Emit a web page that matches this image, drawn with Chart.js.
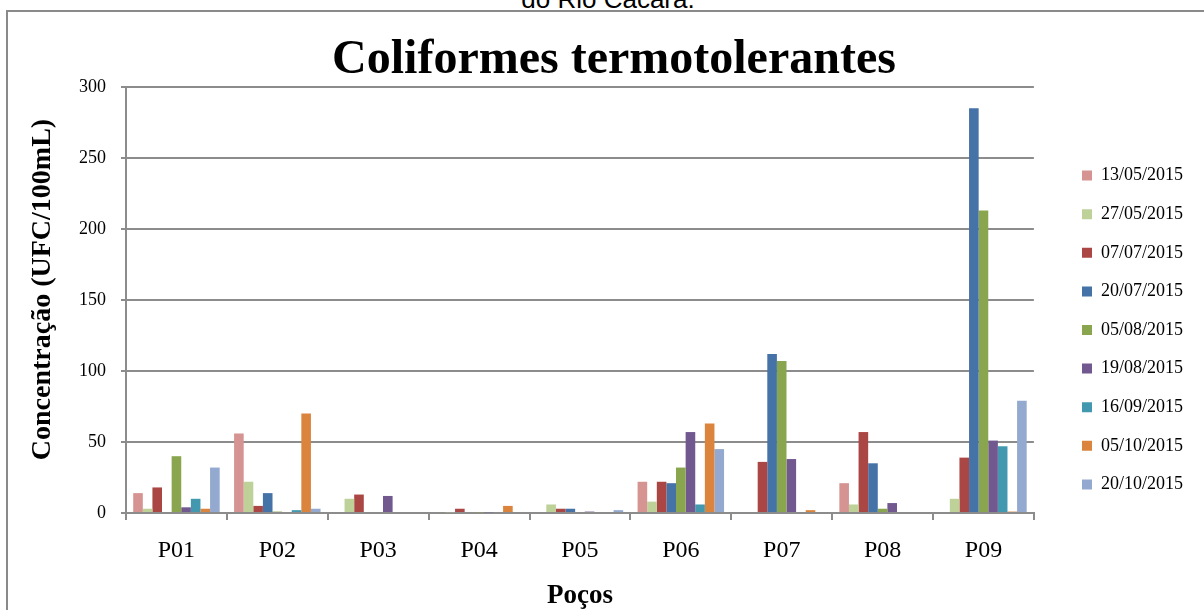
<!DOCTYPE html>
<html><head><meta charset="utf-8">
<script src="https://cdn.jsdelivr.net/npm/chart.js@4.4.1/dist/chart.umd.min.js"></script>
<style>
html,body{margin:0;padding:0;background:#fff;overflow:hidden;}
body{width:1204px;height:610px;position:relative;}
#cap{position:absolute;left:0;width:1216px;top:-14px;text-align:center;font-family:"Liberation Sans",Arial,sans-serif;font-size:26px;line-height:26px;color:#000;}
#frame{position:absolute;left:6px;top:10px;width:1300px;height:700px;border:2px solid #8a8a8a;box-sizing:border-box;}
#wrap{position:absolute;left:0;top:0;width:1204px;height:610px;}
</style></head>
<body>
<div id="cap">do Rio Cacara.</div>
<div id="frame"></div>
<div id="wrap"><canvas id="c" width="1204" height="610"></canvas></div>
<script>
const categories = ['P01','P02','P03','P04','P05','P06','P07','P08','P09'];
const seriesLabels = ['13/05/2015','27/05/2015','07/07/2015','20/07/2015','05/08/2015','19/08/2015','16/09/2015','05/10/2015','20/10/2015'];
const s13_05 = [14, 56, 0, 0, 0, 22, 0, 21, 0];
const s27_05 = [3, 22, 10, 0.5, 6, 8, 0, 6, 10];
const s07_07 = [18, 5, 13, 3, 3, 22, 36, 57, 39];
const s20_07 = [0, 14, 0, 0, 3, 21, 112, 35, 285];
const s05_08 = [40, 1, 0, 0.5, 0, 32, 107, 3, 213];
const s19_08 = [4, 0, 12, 0.5, 1, 57, 38, 7, 51];
const s16_09 = [10, 2, 0, 0, 0, 6, 0, 0, 47];
const s05_10 = [3, 70, 0, 5, 0, 63, 2, 0, 1];
const s20_10 = [32, 3, 0, 0, 2, 45, 0, 0, 79];
const yTicks = [0, 50, 100, 150, 200, 250, 300];

const seriesValues = [s13_05, s27_05, s07_07, s20_07, s05_08, s19_08, s16_09, s05_10, s20_10];
const colors = ['#D59492','#BDD198','#AA4643','#4572A7','#89A54E','#71588F','#4198AF','#DB843D','#93A9CF'];

const serif = '"Liberation Serif", "Times New Roman", serif';
const gridColor = '#8c8c8c';

new Chart(document.getElementById('c'), {
  type: 'bar',
  data: {
    labels: categories,
    datasets: seriesLabels.map((lab, i) => ({
      label: lab,
      data: seriesValues[i],
      backgroundColor: colors[i],
      borderWidth: 0
    }))
  },
  options: {
    responsive: false,
    animation: false,
    layout: { padding: { left: 35, right: 11, top: 50, bottom: 0 } },
    datasets: { bar: { categoryPercentage: 9 / 10.5, barPercentage: 1 } },
    plugins: {
      title: {
        display: true, text: 'Coliformes termotolerantes', color: '#000',
        font: { family: serif, size: 48, weight: 'bold', lineHeight: 1 },
        padding: { top: -13, bottom: 2 }
      },
      legend: {
        position: 'right',
        labels: {
          color: '#000', font: { family: serif, size: 18 },
          boxWidth: 10, boxHeight: 10, padding: 20.6
        }
      },
      tooltip: { enabled: false }
    },
    scales: {
      x: {
        grid: { display: true, drawOnChartArea: false, drawTicks: true, tickLength: 7, color: gridColor, lineWidth: 2, offset: true },
        border: { display: true, color: gridColor, width: 2 },
        ticks: { color: '#000', font: { family: serif, size: 24 }, padding: 16, maxRotation: 0 },
        title: { display: true, text: 'Poços', color: '#000', font: { family: serif, size: 27, weight: 'bold', lineHeight: 1 }, padding: { top: 0, bottom: 0 } },
        afterFit(s) { s.height = 97; }
      },
      y: {
        min: 0, max: 300,
        afterBuildTicks(s) { s.ticks = yTicks.map(v => ({ value: v })); },
        ticks: { color: '#000', font: { family: serif, size: 18 }, padding: 15 },
        grid: { color: gridColor, lineWidth: 2, tickLength: 5 },
        border: { display: true, color: gridColor, width: 2 },
        title: { display: true, text: '   Concentração (UFC/100mL)', color: '#000', font: { family: serif, size: 28, weight: 'bold', lineHeight: 1 }, padding: { top: -6, bottom: 0 } },
        afterFit(s) { s.width = 91; }
      },
      yR: {
        type: 'linear', position: 'right', display: true,
        grid: { display: false, drawTicks: false },
        border: { display: false },
        ticks: { display: false },
        afterFit(s) { s.width = 27.5; }
      }
    }
  }
});
</script>
</body></html>
